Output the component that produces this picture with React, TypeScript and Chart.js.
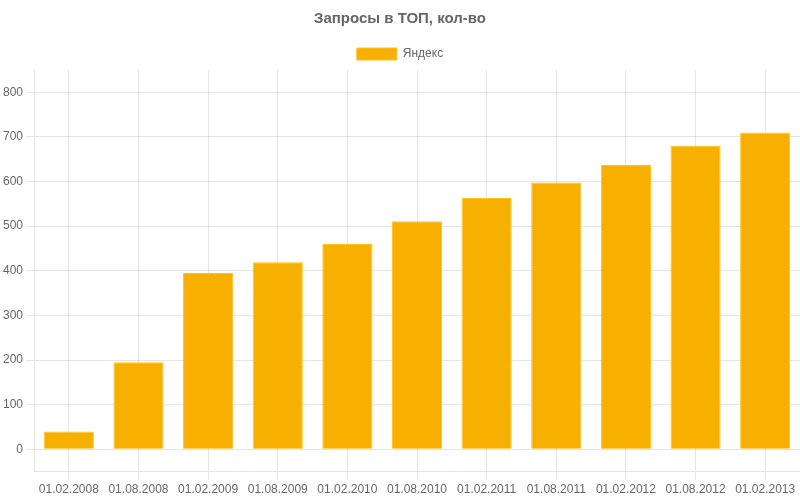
import React, { useEffect, useRef } from "react";
import { Chart, registerables } from "chart.js";

Chart.register(...registerables);

const categories = [
  "01.02.2008", "01.08.2008", "01.02.2009", "01.08.2009", "01.02.2010", "01.08.2010",
  "01.02.2011", "01.08.2011", "01.02.2012", "01.08.2012", "01.02.2013",
];
const yandexValues = [40, 195, 395, 419, 460, 511, 563, 598, 637, 680, 710];
const yTickValues = [0, 100, 200, 300, 400, 500, 600, 700, 800];

export default function App() {
  const ref = useRef<HTMLCanvasElement | null>(null);
  useEffect(() => {
    document.body.style.margin = "0";
    const chart = new Chart(ref.current as HTMLCanvasElement, {
      type: "bar",
      data: {
        labels: categories,
        datasets: [
          {
            label: "Яндекс",
            data: yandexValues,
            backgroundColor: "#F7B000",
            borderColor: "#FFC11F",
            borderWidth: 1,
          },
        ],
      },
      options: {
        animation: false,
        responsive: false,
        font: { family: "'Liberation Sans', Arial, sans-serif" } as any,
        plugins: {
          title: {
            display: true,
            text: "Запросы в ТОП, кол-во",
            color: "#666",
            font: { size: 15, weight: "bold", family: "'Liberation Sans', Arial, sans-serif" },
            padding: { top: 10, bottom: 10 },
          },
          legend: {
            labels: {
              color: "#666",
              font: { size: 12, family: "'Liberation Sans', Arial, sans-serif" },
              boxWidth: 40,
            },
          },
          tooltip: { enabled: false },
        },
        scales: {
          x: {
            grid: { offset: false, color: "rgba(0,0,0,0.1)" },
            ticks: { color: "#666", font: { size: 12, family: "'Liberation Sans', Arial, sans-serif" } },
          },
          y: {
            min: -50,
            max: 850,
            afterBuildTicks: (axis: any) => {
              axis.ticks = yTickValues.map((v) => ({ value: v }));
            },
            grid: { color: "rgba(0,0,0,0.1)" },
            ticks: { color: "#666", font: { size: 12, family: "'Liberation Sans', Arial, sans-serif" } },
          },
        },
      },
    });
    return () => chart.destroy();
  }, []);
  return <canvas ref={ref} width={800} height={500} style={{ display: "block" }} />;
}
